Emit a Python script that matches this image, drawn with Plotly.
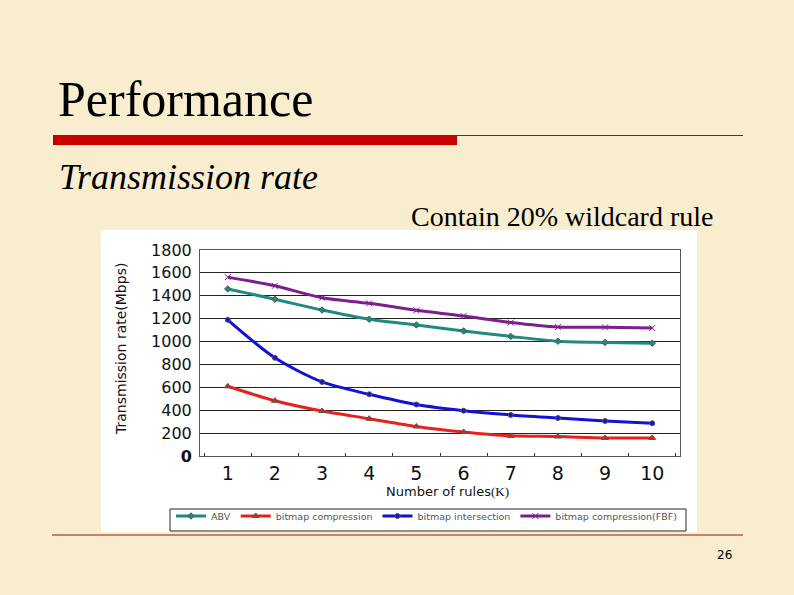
import plotly.graph_objects as go

W, H = 794, 595

rules = ["1", "2", "3", "4", "5", "6", "7", "8", "9", "10"]
abv = [1460, 1370, 1275, 1195, 1145, 1093, 1045, 1003, 992, 986]
bitmap_comp = [609, 483, 393, 326, 258, 210, 176, 170, 158, 158]
bitmap_inter = [1190, 858, 647, 539, 450, 396, 359, 332, 306, 286]
bitmap_fbf = [1563, 1487, 1383, 1334, 1273, 1223, 1166, 1127, 1124, 1118]

series = [
    ("ABV", abv, "#1f8a82", "diamond", 5),
    ("bitmap compression", bitmap_comp, "#e6221e", "triangle-up", 6),
    ("bitmap intersection", bitmap_inter, "#1212d4", "circle", 5),
    ("bitmap compression(FBF)", bitmap_fbf, "#7c1f8c", "x-thin-open", 6),
]

y_ticks = [0, 200, 400, 600, 800, 1000, 1200, 1400, 1600, 1800]
y_ticktext = ["<b>0</b>"] + [str(v) for v in y_ticks[1:]]

fig = go.Figure()
for name, vals, col, sym, sz in series:
    fig.add_trace(go.Scatter(
        x=rules, y=vals, name=name, mode="lines+markers",
        line=dict(color=col, width=3, shape="spline", smoothing=0.8),
        marker=dict(symbol=sym, size=sz, color=col,
                    line=dict(color="#555", width=1)),
    ))

def px(x):
    return x / W

def py(y):
    return 1 - y / H

fig.update_layout(
    width=W, height=H,
    margin=dict(l=0, r=0, t=0, b=0, pad=0, autoexpand=False),
    paper_bgcolor="#f9edcf",
    plot_bgcolor="#c4c4c4",
    showlegend=True,
    legend=dict(
        orientation="h", x=px(171), y=py(516), xanchor="left", yanchor="middle",
        font=dict(family="DejaVu Sans", size=9.5, color="#555"),
        borderwidth=0, bgcolor="rgba(0,0,0,0)",
        itemwidth=30, tracegroupgap=0,
    ),
    xaxis=dict(
        domain=[px(200), px(680)],
        type="category", automargin=False,
        tickson="boundaries", ticks="inside", ticklen=3, tickcolor="#333",
        showgrid=False, showline=True, linecolor="#555", linewidth=1, mirror=True,
        tickfont=dict(family="DejaVu Sans", size=19, color="#111"),
        anchor="y",
    ),
    yaxis=dict(
        domain=[py(456), py(250)],
        range=[0, 1800], automargin=False,
        tickvals=y_ticks, ticktext=y_ticktext,
        showgrid=True, gridcolor="#222", gridwidth=1,
        zeroline=False,
        showline=True, linecolor="#555", linewidth=1, mirror=True,
        ticks="", ticklabelstandoff=4,
        tickfont=dict(family="DejaVu Sans", size=16, color="#111"),
        anchor="x",
    ),
)

shapes = [
    # white chart image box
    dict(type="rect", xref="paper", yref="paper", x0=px(101), x1=px(697), y0=py(532), y1=py(230),
         fillcolor="#ffffff", line=dict(width=0), layer="below"),
    # legend frame
    dict(type="rect", xref="paper", yref="paper", x0=px(170), x1=px(686), y0=py(531), y1=py(509),
         fillcolor="rgba(0,0,0,0)", line=dict(color="#222", width=1), layer="below"),
    # thick red bar under title
    dict(type="rect", xref="paper", yref="paper", x0=px(53), x1=px(457), y0=py(145), y1=py(135),
         fillcolor="#c80000", line=dict(width=0)),
    # thin line continuing
    dict(type="line", xref="paper", yref="paper", x0=px(457), x1=px(743), y0=py(135.5), y1=py(135.5),
         line=dict(color="#8b1a1a", width=1)),
    # bottom footer line
    dict(type="line", xref="paper", yref="paper", x0=px(52), x1=px(743), y0=py(535), y1=py(535),
         line=dict(color="#8b1a1a", width=1.2)),
]
fig.update_layout(shapes=shapes)

annots = [
    dict(text="Performance", x=px(56), y=py(99), xanchor="left", yanchor="middle",
         font=dict(family="Liberation Serif", size=50, color="#000")),
    dict(text="<i>Transmission rate</i>", x=px(57), y=py(177), xanchor="left", yanchor="middle",
         font=dict(family="Liberation Serif", size=36, color="#000")),
    dict(text="Contain 20% wildcard rule", x=px(409), y=py(216), xanchor="left", yanchor="middle",
         font=dict(family="Liberation Serif", size=28, color="#000")),
    dict(text="Transmission rate(Mbps)", x=px(121), y=py(349), xanchor="center", yanchor="middle",
         textangle=-90, font=dict(family="DejaVu Sans", size=14, color="#111")),
    dict(text="Number of rules<span style='font-family:Liberation Serif'>(K)</span>",
         x=px(447), y=py(492), xanchor="center", yanchor="middle",
         font=dict(family="DejaVu Sans", size=13, color="#111")),
    dict(text="26", x=px(724), y=py(555), xanchor="center", yanchor="middle",
         font=dict(family="DejaVu Sans", size=12, color="#000")),
]
for a in annots:
    a.update(xref="paper", yref="paper", showarrow=False)
fig.update_layout(annotations=annots)

fig.write_html("out.html")
